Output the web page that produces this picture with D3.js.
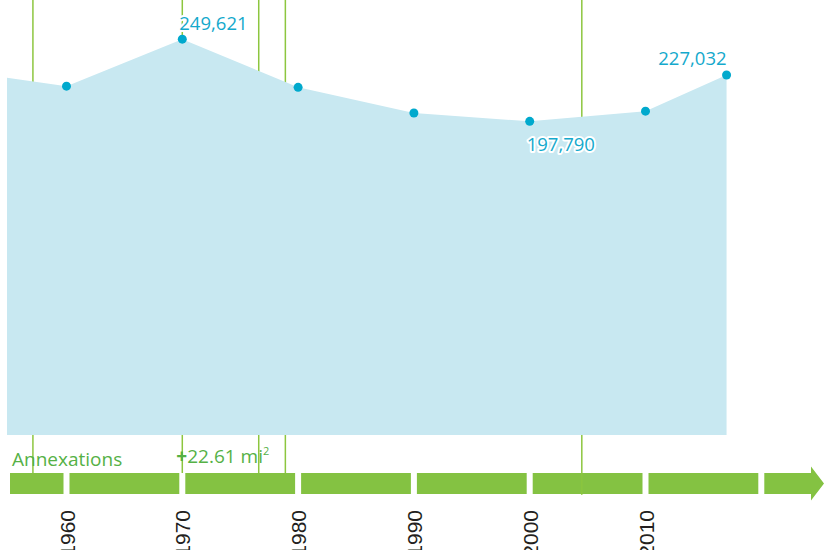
<!DOCTYPE html>
<html>
<head>
<meta charset="utf-8">
<script src="https://cdn.jsdelivr.net/npm/d3@7"></script>
<style>
  html, body { margin: 0; padding: 0; background: #fff; }
  svg { display: block; }
</style>
</head>
<body>
<div id="chart"></div>
<script>
// ---- data ----
const years = [1950, 1960, 1970, 1980, 1990, 2000, 2010, 2017];
const population = [230310, 219958, 249621, 219214, 203056, 197790, 204214, 227032];
const dotYears = [1960, 1970, 1980, 1990, 2000, 2010, 2017];
const labelYears = [1970, 2000, 2017];
const annexationYears = [1957.1, 1970, 1976.6, 1978.9, 2004.5];
const annexationLabel = "22.61 mi";
const decadeTicks = [1950, 1960, 1970, 1980, 1990, 2000, 2010, 2020];
const tickLabels = ["1960", "1970", "1980", "1990", "2000", "2010"];

const W = 824, H = 550;
const svg = d3.select("#chart").append("svg").attr("width", W).attr("height", H);

const x = d3.scaleLinear().domain([1960, 2010]).range([66.5, 645.5]);
const y = d3.scaleLinear().domain([0, 274300]).range([435, 0]);

const data = years.map((yr, i) => ({ year: yr, value: population[i] }));
const byYear = new Map(data.map(d => [d.year, d]));

const lineGreen = "#8dc63f";
const barGreen = "#84c242";
const textGreen = "#55b146";
const blue = "#00a9cd";

// clip for area
svg.append("clipPath").attr("id", "clip")
  .append("rect").attr("x", 7).attr("y", 0).attr("width", W).attr("height", H);

// ---- annexation lines (behind) ----
const barTop = 473, barBot = 494;
svg.append("g").selectAll("line").data(annexationYears).join("line")
  .attr("x1", d => x(d)).attr("x2", d => x(d))
  .attr("y1", 0).attr("y2", barTop)
  .attr("stroke", lineGreen).attr("stroke-width", 1.5);

// ---- area ----
const area = d3.area().x(d => x(d.year)).y0(y(0)).y1(d => y(d.value));
svg.append("path").datum(data)
  .attr("clip-path", "url(#clip)")
  .attr("d", area)
  .attr("fill", "#c8e8f1");

// ---- dots ----
svg.append("g").selectAll("circle").data(dotYears.map(yr => byYear.get(yr))).join("circle")
  .attr("cx", d => x(d.year)).attr("cy", d => y(d.value)).attr("r", 4.5)
  .attr("fill", blue);

// ---- value labels ----
const fmt = d3.format(",");
const labelPlace = {
  1970: { dx: -3, dy: -9, anchor: "start" },
  2000: { dx: -3, dy: 30, anchor: "start" },
  2017: { dx: 0, dy: -10, anchor: "end" }
};
svg.append("g").selectAll("text").data(labelYears.map(yr => byYear.get(yr))).join("text")
  .attr("x", d => x(d.year) + labelPlace[d.year].dx)
  .attr("y", d => y(d.value) + labelPlace[d.year].dy)
  .attr("text-anchor", d => labelPlace[d.year].anchor)
  .attr("font-family", "'Open Sans', sans-serif")
  .attr("font-size", 18.5)
  .attr("fill", "#14a9cc")
  .attr("stroke", "#fff").attr("stroke-width", 4).attr("stroke-linejoin", "round")
  .attr("paint-order", "stroke")
  .text(d => fmt(d.value));

// ---- timeline bar ----
const gap = 3;
const barG = svg.append("g");
const segs = d3.pairs(decadeTicks);
barG.selectAll("rect").data(segs).join("rect")
  .attr("x", d => Math.max(10, x(d[0]) + gap))
  .attr("width", d => x(d[1]) - gap - Math.max(10, x(d[0]) + gap))
  .attr("y", barTop).attr("height", barBot - barTop)
  .attr("fill", barGreen);
// final arrow segment
const last = decadeTicks[decadeTicks.length - 1];
const ax0 = x(last) + gap, headX = W - 13, tipX = W, midY = (barTop + barBot) / 2;
barG.append("path")
  .attr("d", `M${ax0},${barTop}H${headX}V${midY - 17}L${tipX},${midY}L${headX},${midY + 17}V${barBot}H${ax0}Z`)
  .attr("fill", barGreen);

// annexation line crossing bar (the latest one)
svg.append("g").selectAll("line").data(annexationYears.filter(d => d > 2000)).join("line")
  .attr("x1", d => x(d)).attr("x2", d => x(d))
  .attr("y1", barTop).attr("y2", barBot + 1)
  .attr("stroke", lineGreen).attr("stroke-width", 1.2);

// ---- annexation labels ----
svg.append("text")
  .attr("x", 12).attr("y", 466)
  .attr("font-family", "'Open Sans', sans-serif").attr("font-size", 19)
  .attr("fill", textGreen)
  .text("Annexations");

const al = svg.append("text")
  .attr("x", x(annexationYears[1]) - 6).attr("y", 463)
  .attr("font-family", "'Open Sans', sans-serif").attr("font-size", 19)
  .attr("fill", textGreen);
al.append("tspan").attr("font-weight", "bold").text("+");
al.append("tspan").text(annexationLabel);
al.append("tspan").attr("font-size", 11).attr("dy", -8).text("2");

// ---- x axis ----
const axis = d3.axisBottom(x)
  .tickValues(tickLabels.map(Number))
  .tickFormat((d, i) => tickLabels[i])
  .tickSize(0);
const ag = svg.append("g").attr("transform", "translate(0,510)").call(axis);
ag.select(".domain").remove();
ag.selectAll("text")
  .attr("transform", "rotate(-90)")
  .attr("text-anchor", "end")
  .attr("x", 0).attr("y", 0).attr("dy", "0.36em")
  .attr("font-family", "'Liberation Sans', Arial, sans-serif")
  .attr("font-size", 21)
  .attr("fill", "#231f20");
</script>
</body>
</html>
